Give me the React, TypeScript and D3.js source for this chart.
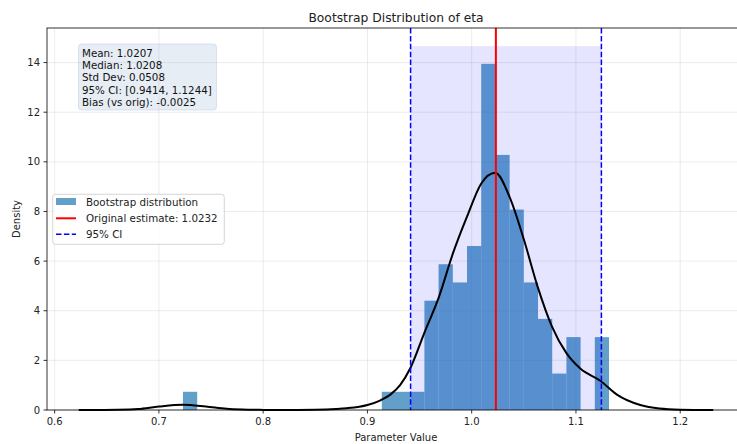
import * as d3 from "d3";

// histogram of 100 bootstrap estimates, 30 bins between min and max
const binMin = 0.7231;
const binMax = 1.1317;
const binCounts = [1, 0, 0, 0, 0, 0, 0, 0, 0, 0, 0, 0, 0, 0, 1, 1, 1, 6, 8, 7, 9, 19, 14, 11, 7, 5, 2, 4, 0, 4];
const nSamples = 100;

// kde curve
const kdeX = [0.6231, 0.64, 0.66, 0.68, 0.7, 0.7231, 0.745, 0.765, 0.78, 0.8, 0.82, 0.85, 0.87, 0.88, 0.9, 0.912, 0.922, 0.9315, 0.9411, 0.9545, 0.9686, 0.982, 0.9955, 1.0092, 1.0226, 1.0363, 1.0502, 1.0632, 1.077, 1.0907, 1.1044, 1.1233, 1.1393, 1.1617, 1.18, 1.2, 1.2317];
const kdeY = [0, 0.002, 0.01, 0.04, 0.14, 0.21, 0.14, 0.05, 0.02, 0.005, 0, 0.01, 0.04, 0.07, 0.2, 0.38, 0.62, 1.01, 1.68, 3.1, 4.56, 6.31, 7.79, 9.13, 9.56, 8.59, 6.85, 4.97, 3.36, 2.3, 1.66, 1.18, 0.62, 0.2, 0.06, 0.015, 0];

const original = 1.0232;
const ciLow = 0.9414;
const ciHigh = 1.1244;
const shadeTop = 14.66;

const xTicks = [0.6, 0.7, 0.8, 0.9, 1.0, 1.1, 1.2];
const yTicks = [0, 2, 4, 6, 8, 10, 12, 14];

const statLines = [
  "Mean: 1.0207",
  "Median: 1.0208",
  "Std Dev: 0.0508",
  "95% CI: [0.9414, 1.1244]",
  "Bias (vs orig): -0.0025",
];

const W = 737;
const H = 444;
const left = 47, right = 745, top = 28, bottom = 410;
const font = "DejaVu Sans, sans-serif";

export default function App() {
  const binW = (binMax - binMin) / binCounts.length;
  const bins = binCounts.map((c, i) => ({
    x0: binMin + i * binW,
    x1: binMin + (i + 1) * binW,
    d: c / (nSamples * binW),
  }));

  const xLo = kdeX[0], xHi = kdeX[kdeX.length - 1];
  const pad = (xHi - xLo) * 0.05;
  const x = d3.scaleLinear().domain([xLo - pad, xHi + pad]).range([left, right]);
  const y = d3.scaleLinear().domain([0, shadeTop * 1.05]).range([bottom, top]);

  const line = d3
    .line<number>()
    .x((_, i) => x(kdeX[i]))
    .y((d) => y(d))
    .curve(d3.curveMonotoneX);

  const barColor = "#1f77b4";

  return (
    <svg width={W} height={H} style={{ position: "absolute", left: 0, top: 0 }} fontFamily={font}>
      <rect width={W} height={H} fill="white" />
      {/* grid */}
      {xTicks.map((t) => (
        <line key={"gx" + t} x1={x(t)} x2={x(t)} y1={top} y2={bottom} stroke="#b0b0b0" strokeOpacity={0.3} strokeWidth={0.8} />
      ))}
      {yTicks.map((t) => (
        <line key={"gy" + t} x1={left} x2={right} y1={y(t)} y2={y(t)} stroke="#b0b0b0" strokeOpacity={0.3} strokeWidth={0.8} />
      ))}
      {/* histogram */}
      {bins.filter((b) => b.d > 0).map((b, i) => (
        <rect key={"b" + i} x={x(b.x0)} width={x(b.x1) - x(b.x0)} y={y(b.d)} height={y(0) - y(b.d)} fill={barColor} fillOpacity={0.7} />
      ))}
      {/* CI shading */}
      <rect x={x(ciLow)} width={x(ciHigh) - x(ciLow)} y={y(shadeTop)} height={y(0) - y(shadeTop)} fill="blue" fillOpacity={0.1} />
      {/* kde */}
      <path d={line(kdeY) || ""} fill="none" stroke="black" strokeWidth={2} />
      {/* original */}
      <line x1={x(original)} x2={x(original)} y1={top} y2={bottom} stroke="red" strokeWidth={2} />
      {[ciLow, ciHigh].map((v) => (
        <line key={"ci" + v} x1={x(v)} x2={x(v)} y1={top} y2={bottom} stroke="blue" strokeWidth={1.5} strokeDasharray="5.5,2.4" />
      ))}
      {/* spines */}
      <rect x={left} y={top} width={right - left} height={bottom - top} fill="none" stroke="black" strokeWidth={0.8} />
      {/* ticks */}
      {xTicks.map((t) => (
        <g key={"tx" + t}>
          <line x1={x(t)} x2={x(t)} y1={bottom} y2={bottom + 3.5} stroke="black" strokeWidth={0.8} />
          <text x={x(t)} y={425} fontSize={10} textAnchor="middle" fill="#222">{t.toFixed(1)}</text>
        </g>
      ))}
      {yTicks.map((t) => (
        <g key={"ty" + t}>
          <line x1={left - 3.5} x2={left} y1={y(t)} y2={y(t)} stroke="black" strokeWidth={0.8} />
          <text x={left - 7} y={y(t)} dy="0.35em" fontSize={10} textAnchor="end" fill="#222">{t}</text>
        </g>
      ))}
      <text x={(left + right) / 2} y={441} fontSize={10} textAnchor="middle" fill="#222">Parameter Value</text>
      <text transform={`translate(20,${(top + bottom) / 2}) rotate(-90)`} fontSize={10} textAnchor="middle" fill="#222">Density</text>
      <text x={(left + right) / 2} y={22} fontSize={12.3} textAnchor="middle" fill="#222">Bootstrap Distribution of eta</text>
      {/* stats box */}
      <rect x={78.5} y={44} width={138} height={66} rx={3} fill="#b0c4de" fillOpacity={0.3} stroke="#b0c4de" strokeOpacity={0.5} strokeWidth={0.8} />
      {statLines.map((s, i) => (
        <text key={s} x={82} y={57 + i * 12.2} fontSize={10.3} fill="#111">{s}</text>
      ))}
      {/* legend */}
      <g>
        <rect x={52.7} y={194.3} width={171.6} height={50} rx={3} fill="white" fillOpacity={0.8} stroke="#cccccc" strokeWidth={0.8} />
        <rect x={56} y={198} width={20} height={7} fill={barColor} fillOpacity={0.7} />
        <text x={86} y={205.5} fontSize={10.3} fill="#222">Bootstrap distribution</text>
        <line x1={56} x2={76} y1={218.3} y2={218.3} stroke="red" strokeWidth={2} />
        <text x={86} y={222} fontSize={10.3} fill="#222">Original estimate: 1.0232</text>
        <line x1={56} x2={76} y1={234.3} y2={234.3} stroke="blue" strokeWidth={1.5} strokeDasharray="5.5,2.4" />
        <text x={86} y={238} fontSize={10.3} fill="#222">95% CI</text>
      </g>
    </svg>
  );
}
